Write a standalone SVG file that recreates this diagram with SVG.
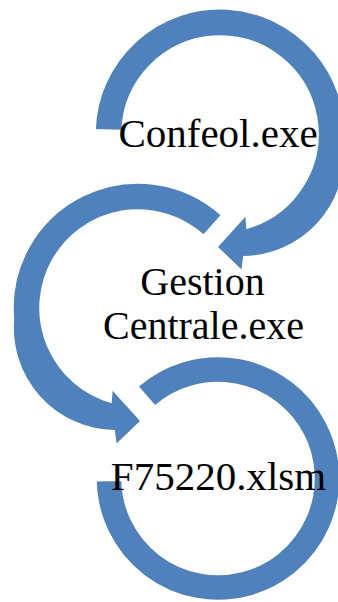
<svg xmlns="http://www.w3.org/2000/svg" width="338" height="602" viewBox="0 0 338 602">
  <style>
    .ring { fill: #4F81BD; stroke: #FFFFFF; stroke-width: 1.5; stroke-linejoin: miter; }
    .label { font-family: "Liberation Serif", "Times New Roman", serif; font-size: 41px; fill: #000000; text-anchor: middle; }
    .label2 { font-size: 40px; }
  </style>
  <rect x="0" y="0" width="338" height="602" fill="#FFFFFF"/>

  <g id="node-confeol">
    <path class="ring" d="M 95.08 129.64 A 125 125 0 1 1 344.52 144.89 A 103 103 0 0 1 243.85 256.70 L 242 271 L 217 247 L 246 215 L 247.01 228.20 A 98 98 0 1 0 122.06 130.58 Z"/>
    <text class="label" x="218" y="147">Confeol.exe</text>
  </g>

  <g id="node-gestion-centrale">
    <path class="ring" transform="translate(358,174) scale(-1,1)" d="M 136.36 41.11 A 125 125 0 0 1 344.52 144.89 A 103 103 0 0 1 243.85 256.70 L 242 271 L 217 247 L 246 215 L 247.01 228.20 A 98 98 0 1 0 154.43 61.17 Z"/>
    <text class="label label2" x="202.5" y="295">Gestion</text>
    <text class="label label2" x="203.5" y="339">Centrale.exe</text>
  </g>

  <g id="node-f75220">
    <path class="ring" d="M 137.96 386.43 A 122 122 0 1 1 96.02 480.63 L 122.01 480.18 A 96 96 0 1 0 155.02 406.05 Z"/>
    <text class="label" x="218.5" y="490">F75220.xlsm</text>
  </g>
</svg>
